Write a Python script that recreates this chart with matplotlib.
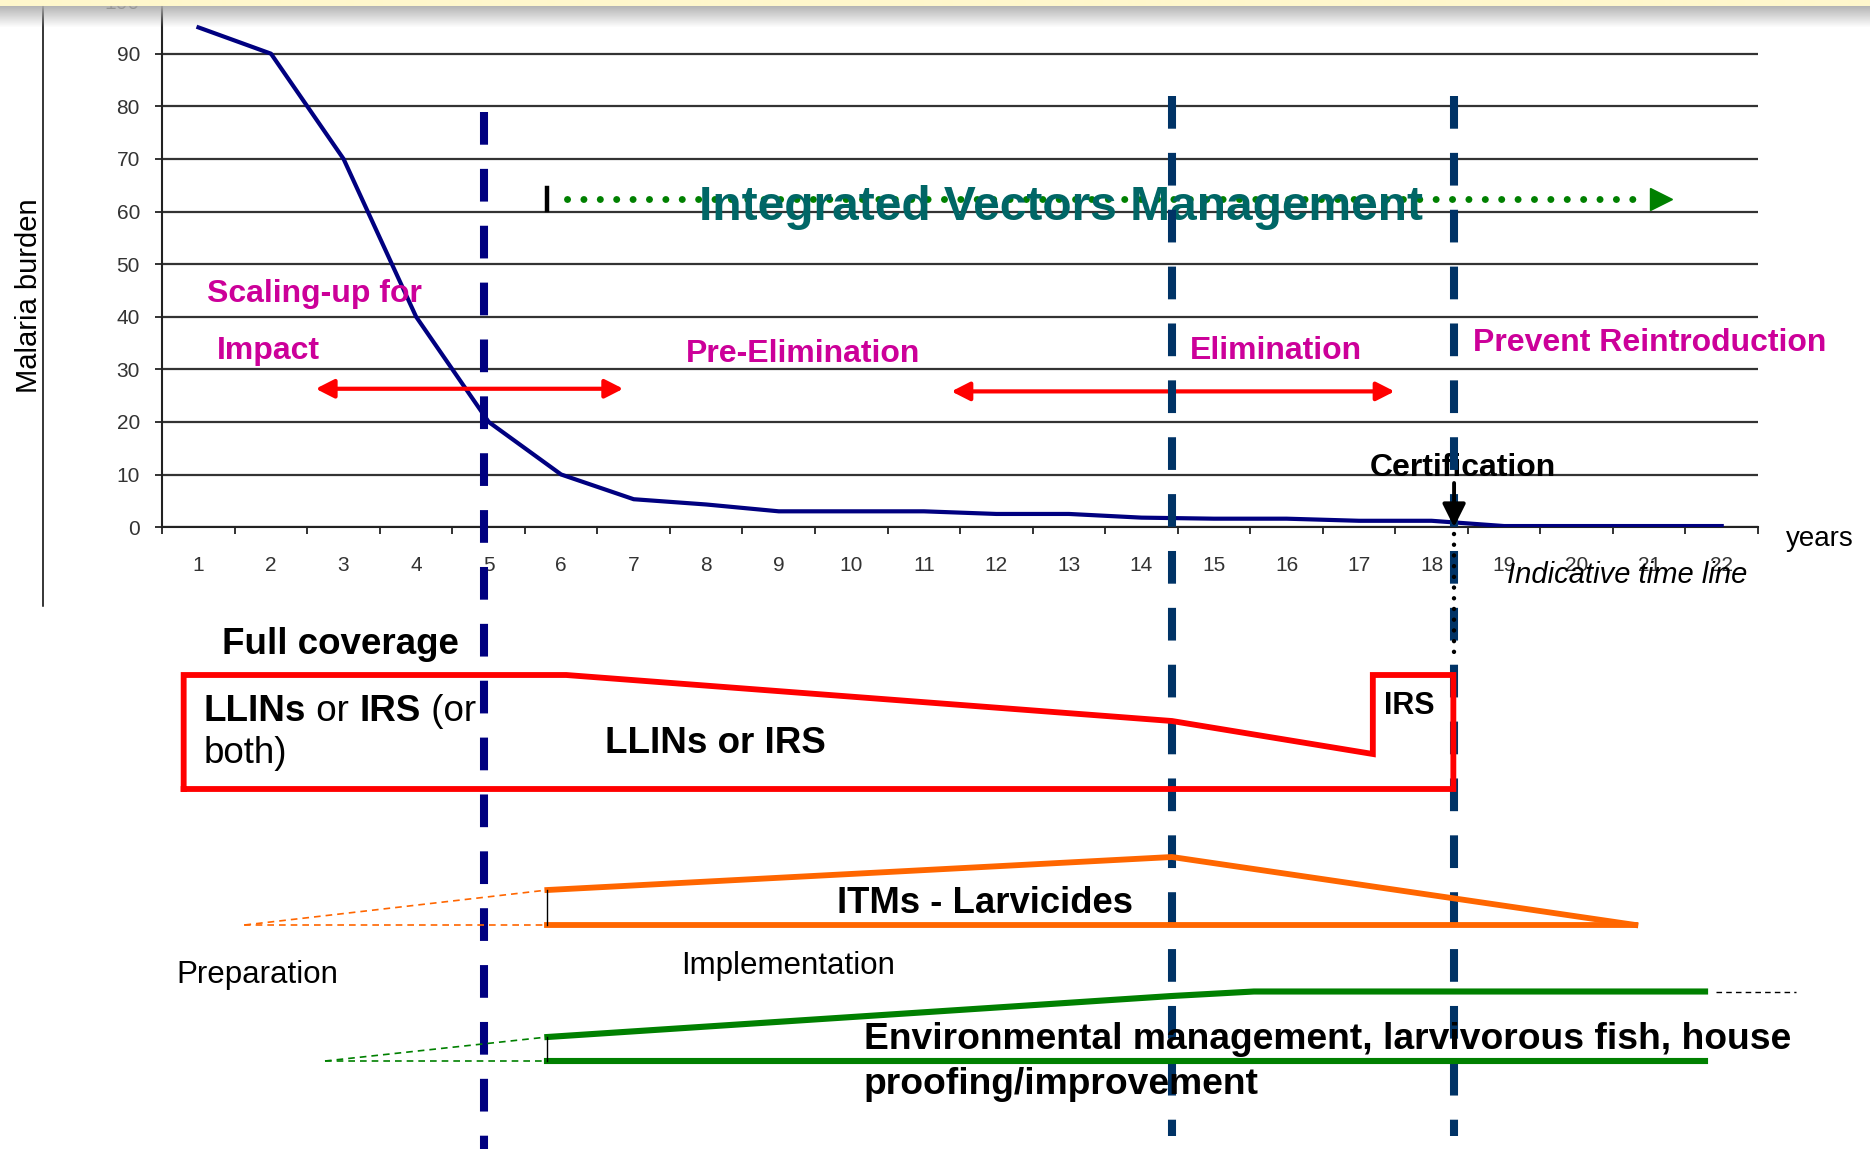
import numpy as np
import matplotlib.pyplot as plt

plt.rcParams['font.family'] = ['Liberation Sans', 'DejaVu Sans']

# ---- chart data ----
years = list(range(1, 23))
burden = [95, 90, 70, 40, 20, 10, 5.3, 4.3, 3, 3, 3, 2.5, 2.5, 1.8, 1.6, 1.6,
          1.2, 1.2, 0.2, 0.2, 0.2, 0.2]
y_ticks = list(range(0, 101, 10))

# phase boundaries (year position) and where their dashes start / stop (row from top)
phase_x = [4.93, 14.42, 18.31]
phase_colors = ['#000080', '#003366', '#003366']
phase_top = [112, 96, 96]
phase_bottom = [1149, 1136, 1136]

# chart annotations (year, burden)
phase_labels = ['Pre-Elimination', 'Elimination', 'Prevent Reintroduction']
phase_label_x = [7.716, 14.668, 18.569]
phase_label_y = [31.4, 32.05, 33.4]
arrow_spans = [(2.616, 6.856, 26.3), (11.38, 17.49, 25.8)]
ivm_start, ivm_end, ivm_level = 6.08, 20.98, 62.45
cert_year = 18.31

# ---- lower diagram (x in years, level = row from top of picture) ----
llin_x = [0.796, 0.796, 6.07, 14.42, 17.19, 17.19, 18.30, 18.30, 0.796]
llin_lvl = [789, 675, 675, 721, 754, 675, 675, 789, 789]
itm_top_x = [5.81, 14.42, 20.81]
itm_top_lvl = [890, 857, 925]
itm_base_x = [5.81, 20.81]
itm_base_lvl = [925, 925]
itm_prep_x = [1.634, 5.81]
env_top_x = [5.81, 14.42, 15.55, 21.77]
env_top_lvl = [1037, 996, 991.5, 991.5]
env_base_x = [5.81, 21.77]
env_base_lvl = [1061, 1061]
env_prep_x = [2.744, 5.81]
env_tail_x = [21.92, 23.03]

W, H = 1870, 1149
L, R, TOP, BOT = 162.2, 1758.0, 1.1, 527.1

fig = plt.figure(figsize=(W / 100, H / 100), dpi=100)
ax = fig.add_axes([L / W, 1 - BOT / H, (R - L) / W, (BOT - TOP) / H], zorder=1)
ax.set_xlim(0.5, 22.5)
ax.set_ylim(0, 100)

ax.plot(years, burden, color='#000080', lw=3, zorder=3)

ax.set_yticks(y_ticks)
ax.set_xticks(years)
ax.set_xticklabels([str(y) for y in years])
ax.set_xticks(np.arange(0.5, 23, 1), minor=True)
ax.tick_params(axis='x', which='major', length=0, pad=21, labelsize=15, labelcolor='#333333')
ax.tick_params(axis='x', which='minor', length=5, width=1.3, color='#222222')
ax.tick_params(axis='y', length=5, width=1.3, color='#222222', pad=11, labelsize=15,
               labelcolor='#333333')
ax.grid(axis='y', color='#333333', lw=1.6)
ax.set_axisbelow(True)
for s in ['top', 'right']:
    ax.spines[s].set_visible(False)
for s in ['left', 'bottom']:
    ax.spines[s].set_color('#222222')
    ax.spines[s].set_linewidth(1.5)
ax.set_ylabel('Malaria burden', fontsize=21)
ax.yaxis.set_label_coords(-0.0745, 0.439)

pink = '#CC0099'
ax.text(1.124, 42.7, 'Scaling-up for', color=pink, fontsize=23, fontweight='bold')
ax.text(1.249, 31.9, 'Impact', color=pink, fontsize=23, fontweight='bold')
for lab, x, y in zip(phase_labels, phase_label_x, phase_label_y):
    ax.text(x, y, lab, color=pink, fontsize=23, fontweight='bold')

for x0, x1, y in arrow_spans:
    ax.annotate('', xy=(x1, y), xytext=(x0, y),
                arrowprops=dict(arrowstyle='<|-|>,head_length=0.55,head_width=0.28',
                                color='#FF0000', lw=3, mutation_scale=20,
                                shrinkA=0, shrinkB=0))

# integrated vector management arrow
ax.plot([ivm_start, ivm_end], [ivm_level, ivm_level], color='#008000', lw=5,
        dashes=(0.01, 2.35), dash_capstyle='round', zorder=4)
ax.plot([ivm_end + 0.18], [ivm_level], marker='>', ms=16, color='#008000', zorder=4)
ax.plot([5.81, 5.81], [60.3, 64.4], color='black', lw=3.2, zorder=4)
ax.text(12.89, 58.4, 'Integrated Vectors Management', color='#006666', fontsize=34.5,
        fontweight='bold', ha='center', zorder=5)

ax.text(18.43, 9.7, 'Certification', fontsize=23, fontweight='bold', ha='center', zorder=5)
ax.text(23.35, -2.3, 'years', fontsize=20, ha='center', va='center')
ax.text(20.7, -9.1, 'Indicative time line', fontsize=21, style='italic', ha='center',
        va='center')

# ---- overlay for the lower diagram ----
ppy = (R - L) / 22
ox0 = 0.5 - L / ppy
ov = fig.add_axes([0, 0, 1, 1], zorder=2)
ov.set_xlim(ox0, ox0 + W / ppy)
ov.set_ylim(H, 0)
ov.axis('off')
ov.patch.set_alpha(0)

for x, c, t, b in zip(phase_x, phase_colors, phase_top, phase_bottom):
    ov.plot([x, x], [t, b], color=c, lw=5.8, dashes=(4.06, 3.0), dash_capstyle='butt')

ov.plot(llin_x, llin_lvl, color='#FF0000', lw=4.2, solid_joinstyle='miter',
        solid_capstyle='projecting')

orange = '#FF6600'
ov.plot(itm_top_x, itm_top_lvl, color=orange, lw=4.2)
ov.plot(itm_base_x, itm_base_lvl, color=orange, lw=4.2)
ov.plot(itm_prep_x, [itm_base_lvl[0], itm_top_lvl[0]], color=orange, lw=1.2, dashes=(4, 3))
ov.plot(itm_prep_x, [itm_base_lvl[0]] * 2, color=orange, lw=1.2, dashes=(4, 3))
ov.plot([itm_top_x[0]] * 2, [itm_top_lvl[0], itm_base_lvl[0]], color='black', lw=1)

green = '#008000'
ov.plot(env_top_x, env_top_lvl, color=green, lw=4.4)
ov.plot(env_base_x, env_base_lvl, color=green, lw=4.4)
ov.plot(env_prep_x, [env_base_lvl[0], env_top_lvl[0]], color=green, lw=1.2, dashes=(4, 3))
ov.plot(env_prep_x, [env_base_lvl[0]] * 2, color=green, lw=1.2, dashes=(4, 3))
ov.plot([env_top_x[0]] * 2, [env_top_lvl[0], env_base_lvl[0]], color='black', lw=1)
ov.plot(env_tail_x, [env_top_lvl[-1]] * 2, color='black', lw=1, dashes=(4, 3))

# certification arrow and dotted drop line
ov.annotate('', xy=(cert_year, BOT), xytext=(cert_year, 483),
            arrowprops=dict(arrowstyle='-|>,head_length=0.7,head_width=0.35', color='black',
                            lw=2.8, mutation_scale=20, shrinkA=0, shrinkB=0))
ov.plot([cert_year, cert_year], [534, 652], color='black', lw=3.2, dashes=(0.01, 2.4),
        dash_capstyle='round')

# left frame line
ov.plot([ox0 + 43 / ppy] * 2, [0, 606], color='black', lw=1.1)

txt = dict(fontsize=26.5, va='baseline')
ov.text(1.330, 654, 'Full coverage', fontweight='bold', **txt)
t1 = ov.text(1.076, 721, 'LLINs', fontweight='bold', **txt)
t2 = ov.annotate(' or ', xy=(1, 0), xycoords=t1, va='bottom', fontsize=26.5)
t3 = ov.annotate('IRS', xy=(1, 0), xycoords=t2, va='bottom', fontsize=26.5, fontweight='bold')
ov.annotate(' (or', xy=(1, 0), xycoords=t3, va='bottom', fontsize=26.5)
ov.text(1.076, 763, 'both)', **txt)
ov.text(8.128, 753, 'LLINs or IRS', fontweight='bold', ha='center', **txt)
ov.text(17.342, 714, 'IRS', fontsize=22, fontweight='bold', va='baseline')
ov.text(11.842, 913, 'ITMs - Larvicides', fontsize=26.3, fontweight='bold', ha='center',
        va='baseline')
ov.text(0.690, 983, 'Preparation', fontsize=22.5, va='baseline')
ov.text(7.660, 974, 'Implementation', fontsize=22.5, va='baseline')
ov.text(10.174, 1049, 'Environmental management, larvivorous fish, house',
        fontweight='bold', fontsize=26.8, va='baseline')
ov.text(10.174, 1094, 'proofing/improvement', fontweight='bold', fontsize=26.8, va='baseline')

# slide header band
band = np.ones((28, 2, 4))
band[:6, :, :3] = [1.0, 0.97, 0.80]
band[:6, :, 3] = 1
band[6:, :, :3] = 0.68
band[6:, :, 3] = np.linspace(0.9, 0, 22)[:, None]
ov.imshow(band, extent=(ox0, ox0 + W / ppy, 28, 0), aspect='auto', zorder=10,
          interpolation='bilinear')
ov.set_xlim(ox0, ox0 + W / ppy)
ov.set_ylim(H, 0)

fig.savefig('out.png', dpi=100)
